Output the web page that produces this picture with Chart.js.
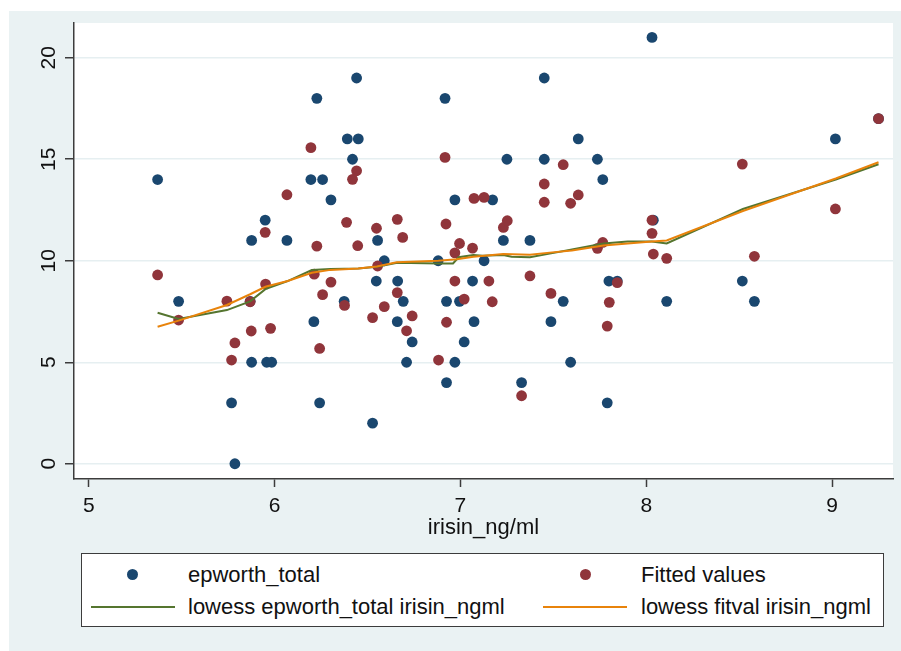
<!DOCTYPE html>
<html>
<head>
<meta charset="utf-8">
<script src="https://cdn.jsdelivr.net/npm/chart.js@4/dist/chart.umd.min.js"></script>
<style>
  html, body { margin: 0; padding: 0; background: #ffffff; }
  body { width: 901px; height: 651px; position: relative; overflow: hidden;
         font-family: "Liberation Sans", Arial, sans-serif; }
  #frame { position: absolute; left: 9px; top: 11px; width: 892px; height: 640px; background: #eaf2f3; }
  #chart { position: absolute; left: 0; top: 0; }
  #legend { position: absolute; left: 81px; top: 553px; width: 801px; height: 72px;
            background: #ffffff; border: 1px solid #3c3c3c; }
  .mark { position: absolute; width: 11px; height: 11px; border-radius: 50%; }
  .sample { position: absolute; height: 2px; }
  .label { position: absolute; font-size: 22px; line-height: 26px; height: 26px;
           color: #111111; white-space: nowrap; }
</style>
</head>
<body>
<div id="frame"></div>
<canvas id="chart" width="901" height="651"></canvas>
<div id="legend"></div>
<div class="mark" style="left:127px; top:569px; background:#1a476f;"></div>
<div class="label" style="left:188px; top:562px;">epworth_total</div>
<div class="mark" style="left:580px; top:569px; background:#90353b;"></div>
<div class="label" style="left:641px; top:562px;">Fitted values</div>
<div class="sample" style="left:91px; top:606px; width:84px; background:#55752f;"></div>
<div class="label" style="left:188px; top:594px;">lowess epworth_total irisin_ngml</div>
<div class="sample" style="left:543px; top:606px; width:84px; background:#e8830b;"></div>
<div class="label" style="left:641px; top:594px;">lowess fitval irisin_ngml</div>
<script>
// Observed Epworth scores against irisin (ng/ml)
const irisinObs = [5.37, 5.483, 5.768, 5.786, 5.868, 5.876, 5.876, 5.949, 5.957, 5.984,
  6.066, 6.195, 6.211, 6.227, 6.242, 6.258, 6.303, 6.374, 6.391, 6.419,
  6.441, 6.45, 6.527, 6.547, 6.554, 6.59, 6.66, 6.662, 6.692, 6.71,
  6.74, 6.88, 6.917, 6.925, 6.925, 6.97, 6.97, 6.995, 7.02, 7.065,
  7.073, 7.127, 7.173, 7.231, 7.25, 7.329, 7.374, 7.451, 7.451, 7.487,
  7.553, 7.593, 7.634, 7.737, 7.766, 7.79, 7.799, 7.844, 8.031, 8.038,
  8.11, 8.517, 8.582, 9.018, 9.25];
const epworthTotal = [14, 8, 3, 0, 8, 11, 5, 12, 5, 5,
  11, 14, 7, 18, 3, 14, 13, 8, 16, 15,
  19, 16, 2, 9, 11, 10, 7, 9, 8, 5,
  6, 10, 18, 8, 4, 13, 5, 8, 6, 9,
  7, 10, 13, 11, 15, 4, 11, 19, 15, 7,
  8, 5, 16, 15, 14, 3, 9, 9, 21, 12,
  8, 9, 8, 16, 17];

// Model fitted values
const irisinFit = [5.37, 5.483, 5.743, 5.768, 5.786, 5.868, 5.874, 5.949, 5.951, 5.978,
  6.066, 6.195, 6.213, 6.227, 6.242, 6.258, 6.303, 6.376, 6.387, 6.419,
  6.441, 6.447, 6.527, 6.548, 6.554, 6.59, 6.66, 6.66, 6.689, 6.71,
  6.74, 6.882, 6.917, 6.922, 6.925, 6.97, 6.97, 6.995, 7.02, 7.065,
  7.073, 7.127, 7.153, 7.171, 7.231, 7.252, 7.329, 7.374, 7.451, 7.451,
  7.487, 7.553, 7.593, 7.634, 7.737, 7.766, 7.79, 7.801, 7.844, 8.031,
  8.031, 8.038, 8.11, 8.517, 8.582, 9.018, 9.25];
const fittedValues = [9.3, 7.08, 8.01, 5.11, 5.95, 7.98, 6.54, 11.4, 8.85, 6.67,
  13.25, 15.57, 9.34, 10.72, 5.68, 8.33, 8.95, 7.8, 11.89, 14.01,
  14.43, 10.74, 7.2, 11.6, 9.74, 7.74, 12.04, 8.43, 11.15, 6.55,
  7.28, 5.11, 15.09, 11.81, 6.97, 9.0, 10.39, 10.85, 8.11, 10.62,
  13.07, 13.12, 9.0, 7.98, 11.64, 11.97, 3.35, 9.25, 13.78, 12.88,
  8.39, 14.73, 12.83, 13.24, 10.61, 10.9, 6.78, 7.95, 8.92, 12.0,
  11.35, 10.33, 10.12, 14.76, 10.22, 12.55, 17.0];

// Lowess smooth of the observed scores
const lowessObsX = [5.37, 5.483, 5.743, 5.868, 5.95, 6.07, 6.2, 6.3, 6.45, 6.55,
  6.66, 6.88, 6.96, 6.99, 7.07, 7.12, 7.23, 7.275, 7.374, 7.48,
  7.6, 7.77, 7.9, 8.03, 8.11, 8.52, 9.02, 9.25];
const lowessObsY = [7.44, 7.13, 7.57, 8.0, 8.6, 9.0, 9.54, 9.59, 9.62, 9.7,
  9.9, 9.87, 9.87, 10.17, 10.28, 10.25, 10.28, 10.2, 10.17, 10.35,
  10.55, 10.85, 10.95, 10.95, 10.85, 12.55, 14.0, 14.75];

// Lowess smooth of the fitted values
const lowessFitX = [5.37, 5.483, 5.743, 5.868, 5.95, 6.07, 6.2, 6.3, 6.45, 6.55,
  6.656, 6.88, 6.98, 7.07, 7.23, 7.374, 7.48, 7.6, 7.77, 7.9,
  8.03, 8.11, 8.52, 9.02, 9.25];
const lowessFitY = [6.75, 7.05, 7.82, 8.35, 8.72, 9.0, 9.41, 9.55, 9.62, 9.72,
  9.92, 10.0, 10.07, 10.2, 10.33, 10.3, 10.4, 10.5, 10.75, 10.85,
  10.95, 11.0, 12.45, 14.05, 14.85];

const xTicks = [5, 6, 7, 8, 9];
const yTicks = [0, 5, 10, 15, 20];

const FONT = '"Liberation Sans", Arial, sans-serif';
const toPoints = (xs, ys) => xs.map((x, i) => ({ x: x, y: ys[i] }));

const plotBackground = {
  id: 'plotBackground',
  beforeDraw(chart) {
    const { ctx, chartArea: a } = chart;
    ctx.save();
    ctx.fillStyle = '#ffffff';
    ctx.fillRect(a.left, a.top, a.right - a.left, a.bottom - a.top);
    ctx.restore();
  }
};

new Chart(document.getElementById('chart'), {
  type: 'scatter',
  data: {
    datasets: [
      { label: 'epworth_total', data: toPoints(irisinObs, epworthTotal),
        backgroundColor: '#1a476f', borderWidth: 0, pointRadius: 5.4, order: 4 },
      { label: 'Fitted values', data: toPoints(irisinFit, fittedValues),
        backgroundColor: '#90353b', borderWidth: 0, pointRadius: 5.4, order: 3 },
      { type: 'line', label: 'lowess epworth_total irisin_ngml', data: toPoints(lowessObsX, lowessObsY),
        borderColor: '#55752f', borderWidth: 2, pointRadius: 0, fill: false, tension: 0, order: 2 },
      { type: 'line', label: 'lowess fitval irisin_ngml', data: toPoints(lowessFitX, lowessFitY),
        borderColor: '#e8830b', borderWidth: 2, pointRadius: 0, fill: false, tension: 0, order: 1 }
    ]
  },
  options: {
    responsive: false,
    animation: false,
    devicePixelRatio: 1,
    layout: { padding: { left: 0, top: 23, right: 8, bottom: 110 } },
    plugins: { legend: { display: false }, tooltip: { enabled: false } },
    scales: {
      x: {
        type: 'linear', min: 4.92, max: 9.328,
        afterBuildTicks: s => { s.ticks = xTicks.map(v => ({ value: v })); },
        afterFit: s => { s.height = 62; },
        grid: { drawOnChartArea: false, drawTicks: true, tickLength: 8, tickColor: '#3c3c3c', tickWidth: 1.5 },
        border: { display: true, color: '#3c3c3c', width: 1.5 },
        ticks: { font: { family: FONT, size: 21 }, color: '#111111', padding: 7, maxRotation: 0, autoSkip: false },
        title: { display: true, text: 'irisin_ng/ml', font: { family: FONT, size: 22 }, color: '#111111', padding: 0 }
      },
      y: {
        type: 'linear', min: -0.75, max: 21.71,
        afterBuildTicks: s => { s.ticks = yTicks.map(v => ({ value: v })); },
        afterFit: s => { s.width = 74; },
        grid: { color: '#e6eff1', lineWidth: 1.5, drawTicks: true, tickLength: 9, tickColor: '#3c3c3c', tickWidth: 1.5 },
        border: { display: true, color: '#3c3c3c', width: 1.5 },
        ticks: { font: { family: FONT, size: 21 }, color: '#111111', padding: 4,
                 minRotation: 90, maxRotation: 90, crossAlign: 'center', autoSkip: false }
      }
    }
  },
  plugins: [plotBackground]
});
</script>
</body>
</html>
